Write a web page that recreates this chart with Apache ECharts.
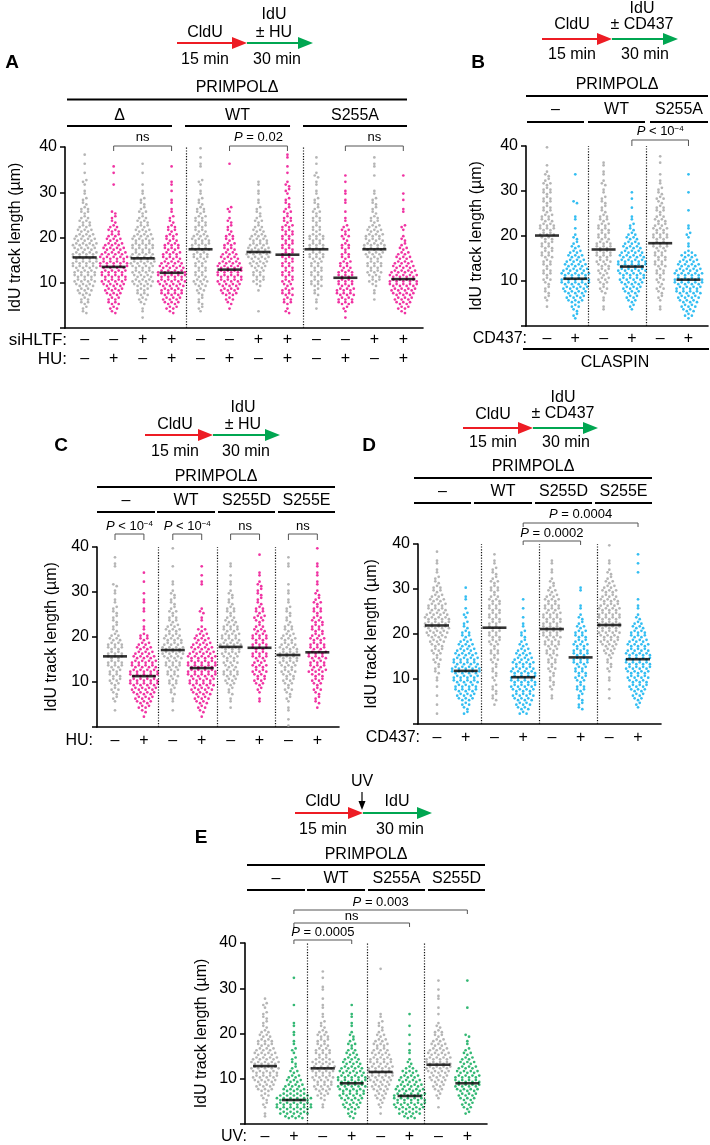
<!DOCTYPE html>
<html><head><meta charset="utf-8">
<script src="https://cdn.jsdelivr.net/npm/echarts@6/dist/echarts.min.js"></script>
<style>html,body{margin:0;padding:0;background:#fff}#c{width:710px;height:1145px}</style>
</head><body><div id="c"></div>
<script>
// ===== DATA (counts of tracks per 1 µm bin, bin k = [k, k+1) µm) =====
const A_counts = [
 [0,0,0,2,2,3,3,4,5,6,7,7,7,8,8,8,8,7,8,7,6,5,4,4,3,3,3,2,2,1,1,1,2,0,1,0,1,0,1],
 [0,0,0,2,3,4,4,5,6,7,8,8,8,9,9,9,8,7,6,5,4,4,3,2,2,2,0,0,0,0,0,1,0,0,1,1],
 [0,0,1,1,1,2,3,4,4,6,7,6,7,7,8,8,7,7,7,7,6,5,4,4,3,3,2,2,2,1,1,1,0,0,1,0,1],
 [0,0,0,2,4,5,6,7,7,8,9,9,9,8,7,6,6,5,5,4,4,3,3,2,2,1,1,1,1,0,1,1,1,0,0,1],
 [0,0,0,1,2,2,2,2,3,4,5,4,4,4,4,5,5,6,6,6,5,4,4,4,4,3,3,2,2,1,1,1,2,0,0,1,1,1,0,1],
 [0,0,0,0,1,2,3,5,6,7,8,8,8,8,7,6,5,4,4,3,3,2,2,2,1,1,2,0,0,0,0,0,0,0,0,0,1],
 [0,0,0,1,0,0,0,0,1,2,4,4,4,5,6,7,8,7,6,6,5,4,3,3,2,2,2,1,1,1,1,1,1],
 [0,0,0,2,1,3,3,4,4,3,4,4,4,4,4,4,4,4,4,4,4,4,4,3,3,3,2,2,2,1,2,2,1,0,1,1,0,1,1],
 [0,0,0,0,1,1,1,2,2,4,4,4,4,4,4,5,5,5,5,5,5,3,3,3,3,3,2,2,2,1,1,1,1,2,1,0,1,1],
 [0,0,1,1,2,5,5,6,6,5,5,5,5,4,4,3,3,3,3,2,3,3,2,1,1,1,0,1,1,1,1,0,1,1],
 [0,0,0,0,0,0,1,1,1,2,4,4,5,5,5,5,6,7,7,6,6,5,4,3,3,2,2,2,2,1,1,0,0,1,0,1,1,1],
 [0,0,0,2,4,5,6,7,8,9,9,9,8,7,6,5,4,3,2,2,1,1,2,0,0,1,1,0,1,1,0,0,0,1]
];
const A_medians = [15.6,13.5,15.4,12.2,17.4,12.9,16.8,16.2,17.4,11.1,17.4,10.8];
const A_siHLTF = ['–','–','+','+','–','–','+','+','–','–','+','+'];
const A_HU     = ['–','+','–','+','–','+','–','+','–','+','–','+'];
const A_headers = ['Δ','WT','S255A'];
const A_pvalues = ['ns','{i|P} = 0.02','ns'];

const B_counts = [
 [0,0,0,0,1,1,2,2,2,2,3,3,3,3,3,4,4,4,4,4,5,5,5,4,4,3,3,3,3,3,3,3,2,2,1,1,0,0,0,1],
 [0,1,2,2,3,5,6,7,8,9,9,9,8,7,6,5,4,3,2,2,1,1,0,1,1,0,0,2,0,0,0,0,0,1],
 [0,0,0,1,1,1,1,2,3,3,4,3,4,4,5,5,5,5,5,4,4,4,4,3,3,2,2,2,2,1,1,2,1,1,1,1,1],
 [0,0,0,1,2,3,4,5,6,7,8,8,9,9,9,8,7,6,5,4,3,2,2,1,1,0,1,0,1,1],
 [0,0,0,1,1,1,2,2,3,2,3,3,3,4,4,4,4,5,5,5,5,5,4,4,3,3,3,2,3,2,2,1,1,1,0,0,1,1],
 [0,1,3,4,5,6,7,8,8,9,9,9,8,7,6,5,3,1,1,1,2,1,1,0,0,1,0,0,0,1,0,0,0,1]
];
const B_medians = [20.1,10.5,17.0,13.2,18.4,10.3];
const B_CD437 = ['–','+','–','+','–','+'];
const B_headers = ['–','WT','S255A'];

const C_counts = [
 [0,0,0,1,0,1,2,2,3,3,4,4,4,5,5,5,5,5,5,4,3,2,2,2,2,2,2,1,1,1,1,2,0,0,0,1,1,1],
 [0,0,1,2,4,5,6,7,8,9,9,9,9,8,8,7,6,5,4,3,3,1,1,1,0,1,1,1,1,1,0,0,1,0,1],
 [0,0,0,1,0,1,1,2,2,3,3,4,4,5,5,6,7,7,6,6,5,5,4,3,3,3,2,2,2,2,1,1,1,0,0,1,0,0,0,1],
 [0,0,1,2,3,4,5,6,7,8,8,9,9,9,9,9,8,7,6,5,4,3,1,1,1,2,1,0,0,0,0,1,1,1,0,1],
 [0,0,0,0,1,1,1,2,2,3,4,5,5,4,5,5,6,6,7,6,6,5,5,4,3,3,3,2,2,2,1,1,1,1,0,1,1],
 [0,0,0,0,0,1,1,1,2,3,4,4,5,5,4,5,5,5,5,5,5,4,3,3,4,3,3,2,2,2,2,2,1,1,1,0,0,0,1],
 [1,1,0,1,1,1,2,2,3,3,4,4,5,5,6,6,6,6,5,5,4,3,3,2,2,2,2,1,1,1,1,1,0,0,0,1,1,1],
 [0,0,0,0,1,2,2,2,3,3,4,4,6,5,5,6,6,5,5,5,4,4,4,4,3,3,3,3,2,2,1,1,1,1,1,1,1,0,0,1]
];
const C_medians = [15.7,11.3,17.1,13.1,17.8,17.6,16.0,16.6];
const C_HU = ['–','+','–','+','–','+','–','+'];
const C_headers = ['–','WT','S255D','S255E'];

const D_counts = [
 [0,0,1,0,1,0,1,0,1,1,1,2,2,2,3,3,4,4,5,6,7,8,8,8,7,6,6,5,4,3,3,2,2,1,1,1,1,0,1],
 [0,0,2,2,3,5,6,7,7,8,8,9,9,8,8,7,6,5,4,3,3,2,2,1,2,1,0,1,1,0,1],
 [0,0,0,0,1,2,2,2,2,1,2,2,2,2,3,3,3,3,4,4,4,4,4,4,4,4,4,4,3,3,3,3,2,2,2,1,1,1],
 [0,0,3,4,5,6,7,7,8,8,8,8,7,7,6,5,4,3,2,2,2,1,1,1,0,1,0,1],
 [0,0,0,0,0,1,1,1,2,2,2,2,3,3,3,4,4,5,5,6,6,6,6,6,6,5,5,5,4,3,2,2,1,1,1,1,1],
 [0,0,0,2,2,2,2,3,3,3,4,4,4,5,5,5,5,5,4,4,4,3,2,2,1,1,1,0,0,1,1],
 [0,0,0,0,0,1,0,1,0,1,1,1,2,2,2,3,4,5,6,6,7,7,7,7,7,7,6,6,5,5,4,3,2,2,1,1,1,0,0,1],
 [0,0,0,1,2,3,4,5,6,6,7,7,8,8,8,8,7,7,6,5,5,4,3,2,1,1,1,1,0,0,0,0,0,1,0,1,0,1]
];
const D_medians = [21.9,11.8,21.4,10.4,21.1,14.8,22.0,14.4];
const D_CD437 = ['–','+','–','+','–','+','–','+'];
const D_headers = ['–','WT','S255D','S255E'];

const E_counts = [
 [0,1,1,1,2,2,3,5,6,7,8,8,9,9,8,7,6,5,5,4,3,2,2,2,2,1,2,1],
 [0,6,9,11,11,11,9,7,6,5,4,3,2,2,2,1,2,1,1,1,1,1,1,0,0,0,1,0,0,0,0,0,1],
 [0,0,0,1,1,2,4,5,6,6,7,7,8,7,5,5,5,4,4,4,3,2,2,1,1,1,1,1,0,1,1,0,1,1],
 [0,2,3,5,6,7,8,8,9,9,9,8,7,6,5,4,3,3,2,2,1,1,1,1,1,0,1],
 [0,0,1,1,2,3,4,5,6,7,8,8,8,7,7,6,5,5,4,3,2,2,2,1,1,0,0,0,0,0,0,0,0,0,1],
 [0,4,7,9,10,10,10,9,8,7,6,5,3,2,1,1,1,1,0,1,0,1,0,0,1],
 [0,0,0,1,0,1,2,3,4,5,6,7,8,8,8,7,6,5,4,3,3,2,1,0,1,1,0,1,1,1,0,1],
 [0,0,2,3,4,5,6,7,8,8,8,7,6,5,4,3,2,1,1,2,0,0,0,0,0,1,0,0,0,0,0,1]
];
const E_medians = [12.8,5.3,12.3,9.0,11.5,6.2,13.1,9.0];
const E_UV = ['–','+','–','+','–','+','–','+'];
const E_headers = ['–','WT','S255A','S255D'];

// ===== STYLE / LAYOUT =====
const FONT = "'Liberation Sans', Arial, Helvetica, sans-serif";
const GREY = '#a2a2a2', MAG = '#ec008c', BLUE = '#00aeef', GREEN = '#00a651';
const RED_ARROW = '#ed1c24', GREEN_ARROW = '#00a651';
const P_RICH = {i:{fontStyle:'italic', fontSize:13, fontFamily:FONT, fill:'#000'},
                s:{fontSize:8, fontFamily:FONT, verticalAlign:'top', fill:'#000'}};

const panels = [
 {counts:A_counts, medians:A_medians, colors:[GREY,MAG], grid:{left:60,top:147,width:363,height:181},
  xmin:-0.68, xmax:11.68, seps:[3.51,7.56], nameGap:41,
  rows:[{label:'siHLTF:', signs:A_siHLTF, y:340, right:67, size:17},{label:'HU:', signs:A_HU, y:359, right:67, size:17}],
  brackets:[{a:1,b:3,y:146,d:5,text:A_pvalues[0],ty:137},{a:5,b:7,y:146,d:5,text:A_pvalues[1],ty:137},{a:9,b:11,y:146,d:5,text:A_pvalues[2],ty:137}]},
 {counts:B_counts, medians:B_medians, colors:[GREY,BLUE], grid:{left:526,top:146,width:182,height:180},
  xmin:-0.742, xmax:5.69, seps:[1.46,3.52], nameGap:41,
  rows:[{label:'CD437:', signs:B_CD437, y:339, right:527}],
  brackets:[{a:3,b:5,y:140,d:6,text:'{i|P} < 10{s|−4}',ty:131}]},
 {counts:C_counts, medians:C_medians, colors:[GREY,MAG], grid:{left:97,top:547,width:242,height:180},
  xmin:-0.623, xmax:7.75, seps:[1.49,3.53,5.54], nameGap:37,
  rows:[{label:'HU:', signs:C_HU, y:741, right:93}],
  brackets:[{a:0,b:1,y:534,d:6,text:'{i|P} < 10{s|−4}',ty:526},{a:2,b:3,y:534,d:6,text:'{i|P} < 10{s|−4}',ty:526},
            {a:4,b:5,y:534,d:6,text:'ns',ty:526},{a:6,b:7,y:534,d:6,text:'ns',ty:526}]},
 {counts:D_counts, medians:D_medians, colors:[GREY,BLUE], grid:{left:418,top:544,width:243,height:180},
  xmin:-0.662, xmax:7.80, seps:[1.53,3.55,5.57], nameGap:38,
  rows:[{label:'CD437:', signs:D_CD437, y:738, right:420}],
  brackets:[{a:3,b:7,y:523,d:4,text:'{i|P} = 0.0004',ty:514},{a:3,b:5,y:541,d:4,text:'{i|P} = 0.0002',ty:533}]},
 {counts:E_counts, medians:E_medians, colors:[GREY,GREEN], grid:{left:245,top:943,width:242,height:181},
  xmin:-0.692, xmax:7.68, seps:[1.45,3.53,5.50], nameGap:35,
  rows:[{label:'UV:', signs:E_UV, y:1137, right:247}],
  brackets:[{a:1,b:7,y:910,d:4,text:'{i|P} = 0.003',ty:902},{a:1,b:5,y:923,d:4,text:'ns',ty:916},{a:1,b:3,y:940,d:4,text:'{i|P} = 0.0005',ty:932}]}
];

const DOT_SPACING_PX = 3.4, DOT_SIZE = 2.7;

function buildDots(counts, center, pxPerUnit){
  const sp = DOT_SPACING_PX / pxPerUnit, pts = [];
  counts.forEach((n,k)=>{
    for(let j=0;j<n;j++){
      const dx = (j-(n-1)/2)*sp;
      const dy = ((j+k)%2 ? 0.2 : -0.2);
      pts.push([center+dx, k+0.5+dy]);
    }
  });
  return pts;
}

const series = [];
panels.forEach((p,pi)=>{
  const ppu = p.grid.width/(p.xmax-p.xmin);
  p.counts.forEach((c,gi)=>{
    const s = {type:'scatter', xAxisIndex:pi, yAxisIndex:pi, symbol:'circle', symbolSize:DOT_SIZE,
      itemStyle:{color:p.colors[gi%2]}, data:buildDots(c, gi, ppu), silent:true, z:2};
    if(gi===0){
      s.markLine = {silent:true, symbol:['none','none'], label:{show:false},
        lineStyle:{type:[1.2,1.6], color:'#111', width:1.2}, data:p.seps.map(x=>({xAxis:x}))};
    }
    series.push(s);
  });
  series.push({type:'scatter', xAxisIndex:pi, yAxisIndex:pi, symbol:'rect', symbolSize:[24,2.6],
    itemStyle:{color:'#000'}, data:p.medians.map((m,i)=>[i,m]), silent:true, z:5});
});

const chart = echarts.init(document.getElementById('c'), null, {renderer:'canvas'});
chart.setOption({
  animation:false, backgroundColor:'#fff',
  grid: panels.map(p=>({left:p.grid.left, top:p.grid.top, width:p.grid.width, height:p.grid.height})),
  xAxis: panels.map((p,i)=>({type:'value', gridIndex:i, min:p.xmin, max:p.xmax,
    axisLine:{show:true, onZero:false, lineStyle:{color:'#000', width:1.6}}, axisTick:{show:false},
    axisLabel:{show:false}, splitLine:{show:false}})),
  yAxis: panels.map((p,i)=>({type:'value', gridIndex:i, min:0, max:40, interval:10,
    axisLine:{show:true, onZero:false, lineStyle:{color:'#000', width:1.6}},
    axisTick:{show:true, length:5, lineStyle:{color:'#000', width:1.5}},
    axisLabel:{color:'#000', fontSize:16, fontFamily:FONT, margin:8, formatter:v=>v===0?'':String(v)},
    splitLine:{show:false},
    name:'IdU track length (µm)', nameLocation:'middle', nameGap:p.nameGap,
    nameTextStyle:{fontSize:16, color:'#000', fontFamily:FONT}})),
  series
});

// ===== annotations =====
const T = (text,x,y,o={}) => ({type:'text', x, y, silent:true, z:10, style:{text, fontSize:o.size||16,
  fontFamily:FONT, fontWeight:o.bold?'bold':'normal', fill:'#000', align:o.align||'center',
  verticalAlign:'middle', rich:o.rich}});
const L = (x1,y1,x2,y2,w=2,c='#000') => ({type:'line', silent:true, z:10, shape:{x1,y1,x2,y2}, style:{stroke:c, lineWidth:w}});
const ARROW = (x1,x2,y,c) => [L(x1,y,x2-12,y,2,c),
  {type:'polygon', silent:true, z:10, shape:{points:[[x2-15,y-6],[x2,y],[x2-15,y+6]]}, style:{fill:c}}];

const g = [];
function schematic(o){
  g.push(...ARROW(o.r1,o.r2,o.ay,RED_ARROW), ...ARROW(o.r2,o.g2,o.ay,GREEN_ARROW));
  g.push(T('CldU',o.c1,o.ty1), T('15 min',o.c1,o.ty2), T('30 min',o.c2+3,o.ty2));
  if(o.top){ g.push(T('IdU',o.c2,o.top[0]), T(o.top[1],o.c2,o.top[2])); }
}
schematic({r1:177,r2:247,g2:313,ay:43,c1:205,c2:274,ty1:33,ty2:60,top:[15,'± HU',33]});
schematic({r1:542,r2:612,g2:678,ay:39,c1:572,c2:642,ty1:25,ty2:55,top:[9,'± CD437',25]});
schematic({r1:145,r2:213,g2:280,ay:435,c1:175,c2:243,ty1:425,ty2:452,top:[408,'± HU',425]});
schematic({r1:463,r2:533,g2:598,ay:428,c1:493,c2:563,ty1:415,ty2:443,top:[398,'± CD437',414]});
schematic({r1:295,r2:363,g2:432,ay:813,c1:323,c2:397,ty1:802,ty2:830});
g.push(T('IdU',397,802), T('UV',362,782), L(362,792,362,803,1.2),
  {type:'polygon', silent:true, z:10, shape:{points:[[358.5,801],[365.5,801],[362,810]]}, style:{fill:'#000'}});

const letters = [['A',12,63],['B',478,63],['C',61,446],['D',369,446],['E',201,838]];
letters.forEach(l=>g.push(T(l[0],l[1],l[2],{bold:true,size:19})));

function headers(o){
  g.push(T('PRIMPOLΔ',o.cx,o.ty), L(o.x1,o.ly,o.x2,o.ly,2));
  o.subs.forEach((s,i)=>{ g.push(T(s,(o.seg[i][0]+o.seg[i][1])/2,o.sy), L(o.seg[i][0],o.sly,o.seg[i][1],o.sly,2)); });
}
headers({cx:237,ty:88,x1:67,x2:407,ly:99.5,sy:116,sly:126,subs:A_headers,seg:[[67,172],[185,290],[303,407]]});
headers({cx:617,ty:85,x1:526,x2:708,ly:96,sy:110,sly:122,subs:B_headers,seg:[[527,584],[588,645],[650,708]]});
headers({cx:216,ty:477,x1:97,x2:335,ly:487,sy:501,sly:512,subs:C_headers,seg:[[97,155],[157,215],[218,275],[278,335]]});
headers({cx:533,ty:467,x1:414,x2:652,ly:478,sy:492,sly:503,subs:D_headers,seg:[[414,471],[474,532],[535,592],[595,652]]});
headers({cx:366,ty:855,x1:247,x2:485,ly:865,sy:879,sly:890,subs:E_headers,seg:[[247,305],[307,365],[368,425],[428,485]]});

g.push(L(523,349,709,349,2), T('CLASPIN',615,363));

panels.forEach((p,pi)=>{
  const px = v => chart.convertToPixel({gridIndex:pi},[v,0])[0];
  p.rows.forEach(r=>{
    g.push(T(r.label, r.right, r.y, {align:'right', size:r.size}));
    r.signs.forEach((s,i)=>g.push(T(s, px(i), r.y)));
  });
  p.brackets.forEach(b=>{
    const x1 = px(b.a), x2 = px(b.b);
    g.push({type:'polyline', silent:true, z:10, shape:{points:[[x1,b.y+b.d],[x1,b.y],[x2,b.y],[x2,b.y+b.d]]},
      style:{stroke:'#555', lineWidth:1, fill:null}});
    g.push(T(b.text,(x1+x2)/2,b.ty,{size:13,rich:P_RICH}));
  });
});

chart.setOption({graphic:{elements:g}});
</script></body></html>
